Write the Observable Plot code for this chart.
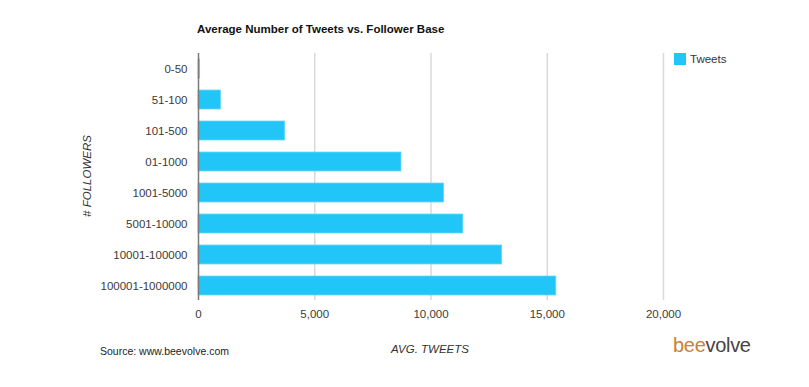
<!DOCTYPE html>
<html>
<head>
<meta charset="utf-8">
<script src="https://cdn.jsdelivr.net/npm/d3@7"></script>
<script src="https://cdn.jsdelivr.net/npm/@observablehq/plot@0.6"></script>
<style>
  body { margin: 0; background: #fff; }
  #wrap { position: relative; width: 809px; height: 387px; font-family: "Liberation Sans", Arial, sans-serif; }
  .abs { position: absolute; white-space: nowrap; }
</style>
</head>
<body>
<div id="wrap"></div>
<script>
const categories = ["0-50", "51-100", "101-500", "01-1000", "1001-5000", "5001-10000", "10001-100000", "100001-1000000"];
const tweets = [70, 970, 3730, 8730, 10560, 11390, 13060, 15390];
const xTicks = [0, 5000, 10000, 15000, 20000];
const seriesName = "Tweets";

const data = categories.map((c, i) => ({cat: c, value: tweets[i]}));
const barColor = "#22c5f7";

const chart = Plot.plot({
  width: 809,
  height: 387,
  marginLeft: 198,
  marginRight: 146,
  marginTop: 53,
  marginBottom: 87,
  style: {fontFamily: '"Liberation Sans", Arial, sans-serif', fontSize: "11.5px", color: "#3a3a3a", background: "transparent"},
  x: {domain: [0, 20000]},
  y: {domain: categories, paddingInner: 0.4, paddingOuter: 0.1},
  marks: [
    Plot.gridX(xTicks.slice(1), {stroke: "#d9d9d9", strokeOpacity: 1, strokeWidth: 1.5}),
    Plot.barX(data, {x: "value", y: "cat", fill: barColor, stroke: "#6dd6f8", strokeWidth: 0.8}),
    Plot.ruleX([0], {stroke: "#7a7a7a", strokeWidth: 1.5}),
    Plot.axisX({ticks: xTicks, tickSize: 0, tickPadding: 9, tickFormat: d3.format(","), label: null}),
    Plot.axisY({tickSize: 0, tickPadding: 11, label: null})
  ]
});

const wrap = document.getElementById("wrap");
wrap.appendChild(chart);
chart.style.position = "absolute";
chart.style.left = "0";
chart.style.top = "0";

function add(html, css) {
  const d = document.createElement("div");
  d.className = "abs";
  d.innerHTML = html;
  Object.assign(d.style, css);
  wrap.appendChild(d);
  return d;
}

add("Average Number of Tweets vs. Follower Base", {left: "197px", top: "21px", fontSize: "11.5px", fontWeight: "bold", color: "#111", lineHeight: "16px"});
add('<span style="display:inline-block;width:12px;height:12px;background:' + barColor + ';vertical-align:-2px;margin-right:4px"></span>' + seriesName,
    {left: "674px", top: "51px", fontSize: "11.5px", color: "#333", lineHeight: "16px"});
add("AVG. TWEETS", {left: "430px", top: "342px", transform: "translateX(-50%)", fontSize: "11.5px", fontStyle: "italic", color: "#333", lineHeight: "14px"});
add("# FOLLOWERS", {left: "87px", top: "176px", transform: "translate(-50%,-50%) rotate(-90deg)", fontSize: "11.5px", fontStyle: "italic", color: "#333", lineHeight: "14px"});
add("Source: www.beevolve.com", {left: "100px", top: "344px", fontSize: "10.5px", color: "#222", lineHeight: "14px"});
add('<span style="color:#c8803c">bee</span><span style="color:#4a4242">volve</span>', {left: "673px", top: "334px", fontSize: "20px", lineHeight: "22px", letterSpacing: "-0.3px"});
</script>
</body>
</html>
